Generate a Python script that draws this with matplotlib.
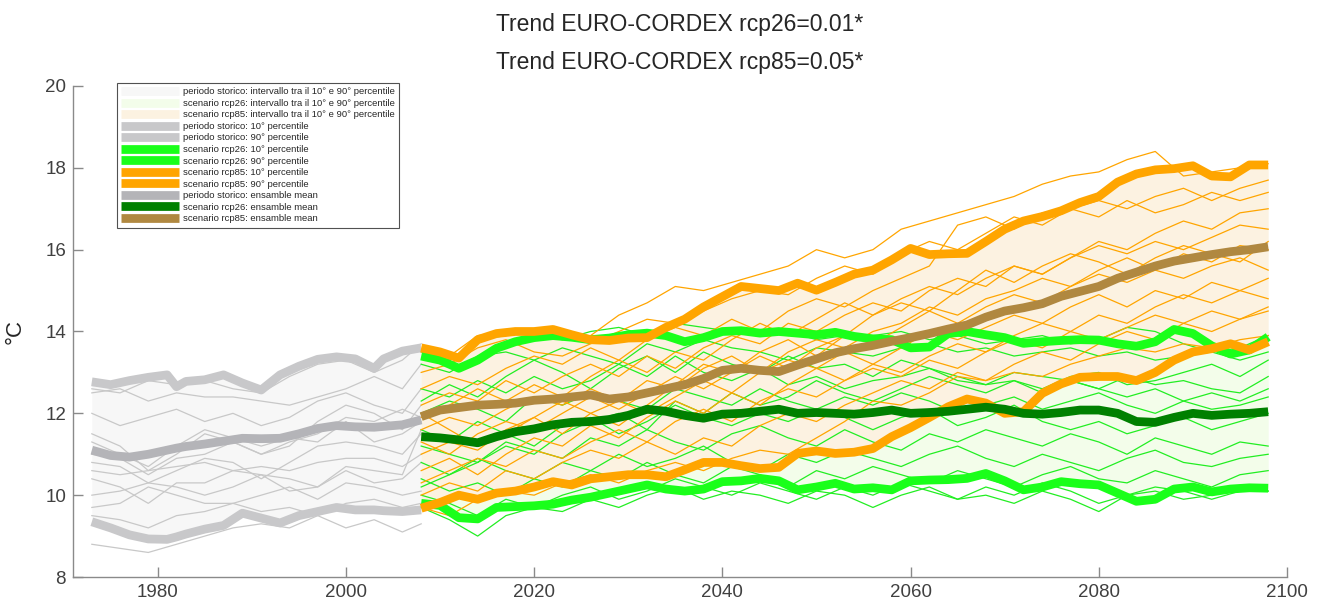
import matplotlib
matplotlib.use("Agg")
import matplotlib.pyplot as plt
from matplotlib.lines import Line2D
import numpy as np

plt.rcParams['font.family'] = ['Liberation Sans', 'DejaVu Sans']

# ---------------- DATA ----------------
title_lines = ["Trend EURO-CORDEX rcp26=0.01*", "Trend EURO-CORDEX rcp85=0.05*"]
y_label = "°C"
x_ticks = [1980, 2000, 2020, 2040, 2060, 2080, 2100]
y_ticks = [8, 10, 12, 14, 16, 18, 20]

legend_labels = [
    "periodo storico: intervallo tra il 10° e 90° percentile",
    "scenario rcp26: intervallo tra il 10° e 90° percentile",
    "scenario rcp85: intervallo tra il 10° e 90° percentile",
    "periodo storico: 10° percentile",
    "periodo storico: 90° percentile",
    "scenario rcp26: 10° percentile",
    "scenario rcp26: 90° percentile",
    "scenario rcp85: 10° percentile",
    "scenario rcp85: 90° percentile",
    "periodo storico: ensamble mean",
    "scenario rcp26: ensamble mean",
    "scenario rcp85: ensamble mean",
]

# historical thick lines
hist_years = [1973, 1975, 1977, 1979, 1981, 1982, 1983, 1985, 1987, 1989,
              1991, 1993, 1995, 1997, 1999, 2001, 2003, 2004, 2006, 2008]
hist_p90 = [12.77, 12.70, 12.80, 12.88, 12.94, 12.65, 12.78, 12.82, 12.94, 12.74,
            12.57, 12.94, 13.15, 13.32, 13.38, 13.33, 13.10, 13.33, 13.52, 13.60]
hist_p10 = [9.35, 9.20, 9.03, 8.93, 8.92, 8.98, 9.05, 9.17, 9.26, 9.56,
            9.44, 9.32, 9.50, 9.60, 9.70, 9.64, 9.64, 9.62, 9.60, 9.64]
hist_mean = [11.10, 10.97, 10.93, 11.00, 11.10, 11.15, 11.19, 11.25, 11.32, 11.39,
             11.38, 11.39, 11.50, 11.63, 11.70, 11.67, 11.66, 11.68, 11.72, 11.84]

# historical single models
hist_thin_years = [1973, 1976, 1979, 1982, 1985, 1988, 1991, 1994, 1997, 2000, 2003, 2006, 2008]
hist_models = [
    [12.6, 12.5, 12.8, 12.7, 12.8, 12.6, 12.5, 12.9, 13.2, 13.3, 13.0, 13.3, 13.7],
    [12.5, 12.6, 12.3, 12.5, 12.4, 12.4, 12.3, 12.2, 12.4, 12.6, 12.9, 12.6, 13.2],
    [12.0, 11.7, 11.9, 12.1, 11.8, 12.0, 11.7, 11.9, 12.3, 12.5, 12.2, 12.0, 12.6],
    [11.5, 11.2, 10.6, 11.0, 11.5, 11.3, 11.0, 11.2, 11.8, 12.2, 12.0, 11.6, 12.2],
    [11.3, 11.0, 10.7, 11.2, 11.6, 11.4, 11.2, 11.4, 11.3, 11.8, 11.3, 11.5, 11.8],
    [11.0, 10.9, 10.5, 10.9, 11.0, 11.3, 11.0, 11.3, 11.5, 11.9, 11.8, 12.1, 11.9],
    [10.8, 10.7, 10.3, 10.6, 10.9, 10.8, 10.4, 10.8, 11.2, 11.3, 11.2, 11.0, 11.5],
    [10.6, 10.5, 10.6, 10.7, 10.8, 10.6, 10.7, 10.6, 10.8, 10.9, 10.9, 10.7, 11.0],
    [10.4, 10.2, 9.8, 10.3, 10.3, 10.6, 10.5, 10.4, 10.2, 10.7, 10.6, 10.5, 11.6],
    [10.0, 10.1, 10.3, 10.2, 10.0, 10.2, 10.5, 10.1, 10.2, 10.6, 10.3, 10.4, 10.8],
    [9.7, 9.8, 10.2, 10.0, 9.8, 9.8, 10.0, 10.2, 9.9, 10.3, 10.2, 10.0, 10.1],
    [9.5, 9.4, 9.2, 9.5, 9.6, 9.8, 9.6, 9.7, 9.5, 9.8, 9.9, 9.7, 9.8],
    [8.8, 8.7, 8.6, 8.8, 9.0, 9.2, 9.3, 9.2, 9.5, 9.2, 9.4, 9.1, 9.3],
]

# scenario thick lines
scen_years = list(range(2008, 2099, 2))
rcp85_p90 = [13.60, 13.50, 13.35, 13.80, 13.95, 14.00, 14.00, 14.05, 13.92, 13.80,
             13.78, 13.84, 13.85, 14.10, 14.30, 14.60, 14.85, 15.10, 15.05, 15.00,
             15.18, 15.01, 15.20, 15.40, 15.50, 15.75, 16.03, 15.88, 15.90, 15.91,
             16.20, 16.50, 16.70, 16.81, 16.95, 17.15, 17.30, 17.65, 17.85, 17.95,
             17.98, 18.05, 17.80, 17.78, 18.07, 18.07]
rcp85_p10 = [9.68, 9.82, 10.00, 9.90, 10.05, 10.10, 10.20, 10.33, 10.25, 10.40,
             10.45, 10.50, 10.50, 10.45, 10.62, 10.80, 10.80, 10.72, 10.65, 10.68,
             11.02, 11.08, 11.02, 11.05, 11.14, 11.43, 11.65, 11.90, 12.16, 12.35,
             12.25, 12.00, 12.04, 12.49, 12.72, 12.88, 12.90, 12.90, 12.80, 13.00,
             13.30, 13.50, 13.58, 13.70, 13.55, 13.75]
rcp85_mean = [11.92, 12.08, 12.14, 12.20, 12.22, 12.25, 12.32, 12.35, 12.40, 12.45,
              12.35, 12.40, 12.50, 12.60, 12.70, 12.85, 13.05, 13.10, 13.05, 13.02,
              13.18, 13.33, 13.48, 13.58, 13.66, 13.76, 13.85, 13.95, 14.06, 14.16,
              14.35, 14.50, 14.58, 14.68, 14.86, 14.98, 15.10, 15.30, 15.45, 15.60,
              15.72, 15.80, 15.88, 15.95, 16.00, 16.07]
rcp26_p90 = [13.40, 13.30, 13.10, 13.30, 13.59, 13.75, 13.85, 13.90, 13.86, 13.80,
             13.84, 13.92, 13.96, 13.90, 13.75, 13.85, 14.00, 14.02, 13.96, 14.00,
             13.96, 13.92, 13.98, 13.88, 13.82, 13.80, 13.60, 13.62, 13.95, 14.00,
             13.92, 13.85, 13.71, 13.75, 13.78, 13.80, 13.79, 13.70, 13.64, 13.75,
             14.05, 13.95, 13.65, 13.45, 13.55, 13.87]
rcp26_p10 = [9.80, 9.75, 9.45, 9.42, 9.70, 9.72, 9.74, 9.78, 9.88, 9.95,
             10.05, 10.15, 10.25, 10.15, 10.10, 10.15, 10.33, 10.35, 10.41, 10.35,
             10.13, 10.20, 10.29, 10.15, 10.18, 10.13, 10.35, 10.37, 10.38, 10.41,
             10.53, 10.35, 10.13, 10.20, 10.33, 10.28, 10.25, 10.05, 9.85, 9.90,
             10.15, 10.20, 10.08, 10.15, 10.18, 10.17]
rcp26_mean = [11.43, 11.40, 11.35, 11.28, 11.43, 11.55, 11.62, 11.72, 11.78, 11.80,
              11.85, 11.95, 12.10, 12.05, 11.95, 11.88, 11.98, 12.00, 12.05, 12.10,
              12.00, 12.02, 12.00, 11.98, 12.02, 12.08, 12.00, 12.02, 12.05, 12.10,
              12.15, 12.10, 12.00, 11.98, 12.02, 12.08, 12.08, 12.00, 11.80, 11.78,
              11.90, 12.00, 11.95, 11.98, 12.00, 12.04]

# scenario single models
scen_thin_years = list(range(2008, 2099, 3))
rcp26_models = [
    [13.5, 13.3, 13.8, 13.9, 14.0, 13.8, 14.0, 14.1, 13.9, 14.2, 14.1, 14.0, 13.9, 14.0, 13.8, 13.9, 13.9, 14.0, 13.8, 13.9, 13.7, 13.8, 13.9, 13.7, 13.8, 14.1, 14.0, 13.7, 13.5, 13.6, 13.9],
    [13.2, 13.0, 13.4, 13.5, 13.3, 13.6, 13.4, 13.2, 13.7, 13.5, 13.8, 13.6, 13.5, 13.3, 13.6, 13.5, 13.4, 13.6, 13.7, 13.5, 13.6, 13.4, 13.5, 13.6, 13.4, 13.5, 13.3, 13.4, 13.5, 13.3, 13.5],
    [12.6, 12.4, 12.8, 12.5, 12.9, 12.6, 12.8, 13.2, 12.9, 13.4, 13.0, 12.8, 13.1, 12.7, 12.9, 12.6, 12.8, 12.9, 13.1, 12.8, 12.7, 13.0, 12.9, 12.8, 12.6, 12.9, 12.7, 12.8, 12.6, 12.5, 12.9],
    [12.0, 12.3, 12.1, 11.8, 12.4, 12.2, 12.5, 12.3, 12.1, 12.6, 12.4, 12.2, 12.6, 12.3, 12.1, 12.4, 12.2, 12.5, 12.3, 12.0, 12.2, 12.4, 12.1, 12.3, 12.5, 12.2, 12.0, 12.3, 12.1, 12.2, 12.4],
    [11.6, 11.3, 11.8, 11.5, 11.2, 11.7, 11.9, 11.5, 11.8, 12.2, 11.9, 11.7, 12.0, 11.8, 12.1, 11.9, 11.6, 11.9, 12.1, 11.7, 11.9, 12.2, 11.8, 11.6, 11.8, 11.5, 11.7, 11.9, 11.6, 11.8, 12.0],
    [11.2, 11.0, 10.8, 11.3, 11.1, 10.9, 11.4, 11.2, 11.6, 11.3, 11.1, 11.5, 11.7, 11.4, 11.2, 11.6, 11.3, 11.1, 11.5, 11.3, 11.6, 11.4, 11.2, 11.5, 11.3, 11.0, 11.4, 11.2, 11.0, 11.3, 11.2],
    [10.8, 10.5, 10.9, 10.6, 10.4, 10.8, 10.6, 11.0, 10.7, 10.9, 11.2, 10.8, 10.6, 11.0, 10.8, 11.1, 10.9, 10.7, 11.0, 11.2, 10.9, 10.7, 11.0, 10.8, 10.6, 10.9, 11.1, 10.8, 10.7, 10.9, 11.0],
    [10.4, 10.1, 10.3, 10.0, 10.4, 10.2, 10.6, 10.4, 10.8, 10.5, 10.3, 10.7, 10.5, 10.2, 10.6, 10.4, 10.7, 10.5, 10.3, 10.6, 10.4, 10.2, 10.5, 10.7, 10.4, 10.3, 10.6, 10.4, 10.2, 10.5, 10.6],
    [10.0, 9.8, 9.5, 9.9, 9.7, 10.0, 10.2, 9.9, 10.1, 10.4, 10.2, 10.0, 10.3, 10.1, 9.9, 10.2, 10.0, 10.3, 10.1, 9.9, 10.2, 10.0, 10.3, 10.1, 9.8, 10.0, 10.2, 10.1, 9.9, 10.1, 10.1],
    [9.7, 9.4, 9.0, 9.5, 9.7, 9.6, 9.9, 9.7, 10.0, 10.2, 9.9, 10.1, 10.0, 9.8, 10.1, 10.0, 9.7, 10.0, 10.2, 9.9, 10.0, 9.8, 10.1, 9.9, 9.6, 10.0, 10.1, 9.9, 10.0, 10.2, 10.1],
    [10.2, 10.5, 10.8, 11.2, 11.0, 11.5, 11.8, 12.0, 11.6, 12.3, 12.0, 12.5, 12.2, 12.4, 12.8, 12.5, 12.3, 12.6, 12.9, 12.7, 12.5, 12.8, 12.6, 12.9, 13.0, 12.7, 12.8, 13.0, 13.2, 12.9, 13.3],
    [12.3, 12.7, 12.4, 12.9, 13.3, 13.0, 12.6, 13.1, 13.4, 13.0, 13.5, 13.2, 13.0, 13.4, 13.1, 13.2, 12.9, 13.3, 13.1, 12.9, 12.7, 12.8, 12.5, 12.8, 12.6, 12.4, 12.6, 12.3, 12.5, 12.3, 12.6],
]
rcp85_models = [
    [13.5, 13.4, 13.9, 14.0, 13.9, 13.8, 13.9, 14.4, 14.7, 15.1, 15.0, 15.2, 15.4, 15.6, 16.0, 15.8, 16.0, 16.5, 16.7, 16.9, 17.1, 17.3, 17.6, 17.8, 17.9, 18.2, 18.4, 17.8, 17.9, 18.0, 18.1],
    [13.0, 13.2, 13.6, 13.8, 13.5, 13.4, 13.7, 14.0, 14.3, 14.2, 14.5, 14.8, 15.0, 14.9, 15.3, 15.6, 15.4, 15.9, 16.2, 16.0, 16.4, 16.8, 16.6, 17.0, 17.2, 17.0, 17.3, 17.5, 17.2, 17.5, 17.7],
    [12.6, 12.9, 12.7, 13.1, 13.4, 13.2, 13.6, 13.3, 13.8, 14.1, 13.9, 14.3, 14.0, 14.5, 14.8, 14.6, 15.0, 15.3, 15.6, 16.6, 16.8, 16.5, 16.9, 17.0, 16.8, 17.2, 16.9, 17.1, 17.4, 17.2, 17.4],
    [12.2, 12.5, 12.3, 12.8, 12.5, 12.9, 13.2, 12.9, 13.4, 13.1, 13.6, 13.9, 13.7, 14.2, 14.0, 14.4, 14.7, 14.5, 15.0, 15.3, 15.1, 15.6, 15.4, 15.8, 16.2, 16.0, 16.4, 16.7, 16.5, 16.9, 17.0],
    [11.9, 12.2, 12.6, 12.3, 12.7, 12.4, 12.9, 13.3, 13.0, 13.5, 13.3, 13.8, 14.2, 13.9, 14.3, 14.7, 14.4, 14.8, 15.1, 14.9, 15.3, 15.6, 15.4, 15.8, 16.1, 15.9, 16.2, 16.0, 16.3, 16.6, 16.5],
    [11.6, 11.9, 11.7, 12.1, 12.4, 12.2, 12.6, 12.3, 12.8, 12.6, 13.1, 13.4, 13.0, 13.5, 13.8, 13.6, 14.0, 14.2, 14.6, 14.4, 14.8, 15.0, 15.3, 15.1, 15.5, 15.8, 15.5, 15.9, 15.7, 16.1, 16.0],
    [11.3, 11.0, 11.5, 11.8, 11.6, 12.0, 12.4, 12.1, 12.5, 12.9, 12.6, 13.0, 13.4, 13.1, 13.6, 13.9, 13.7, 14.1, 14.5, 14.2, 14.6, 14.9, 14.7, 15.1, 15.4, 15.2, 15.5, 15.3, 15.6, 15.8, 15.5],
    [11.0, 11.3, 11.1, 11.6, 11.9, 11.5, 12.0, 12.3, 12.0, 12.4, 12.8, 12.5, 13.0, 13.3, 13.1, 13.5, 13.2, 13.6, 14.0, 13.8, 14.1, 14.4, 14.2, 14.6, 14.9, 14.6, 15.0, 14.8, 15.2, 15.0, 15.3],
    [10.6, 10.9, 10.5, 11.0, 11.4, 11.2, 11.7, 11.4, 11.9, 12.3, 12.0, 12.5, 12.2, 12.7, 13.1, 12.8, 13.2, 13.0, 13.4, 13.7, 13.5, 13.9, 14.2, 14.0, 14.4, 14.2, 14.6, 14.9, 14.7, 15.0, 14.8],
    [10.3, 10.6, 10.9, 10.7, 11.1, 10.9, 11.3, 11.6, 11.3, 11.8, 12.1, 11.8, 12.3, 12.6, 12.4, 12.8, 13.1, 12.9, 13.3, 13.1, 13.5, 13.8, 13.6, 14.0, 13.8, 14.1, 14.4, 14.2, 14.5, 14.3, 14.6],
    [10.0, 10.3, 10.1, 10.6, 10.4, 10.8, 11.1, 10.9, 11.3, 11.0, 11.4, 11.2, 11.7, 12.0, 11.8, 12.2, 12.5, 12.8, 12.6, 13.0, 12.8, 13.2, 13.5, 13.3, 13.7, 14.0, 13.8, 14.2, 14.0, 14.3, 14.5],
    [9.7, 9.5, 9.9, 10.1, 10.0, 10.3, 10.5, 10.3, 10.6, 10.8, 10.6, 10.9, 11.1, 11.0, 11.4, 11.8, 12.3, 12.2, 12.5, 12.9, 12.8, 13.0, 12.9, 13.2, 13.4, 13.6, 13.5, 13.7, 13.6, 13.8, 13.9],
    [12.0, 11.6, 11.2, 11.5, 11.9, 12.3, 12.0, 11.7, 12.2, 12.7, 13.2, 13.0, 13.5, 13.8, 13.4, 13.9, 14.4, 14.7, 14.5, 15.0, 15.5, 15.2, 15.6, 15.9, 15.7, 15.4, 15.8, 16.1, 15.9, 15.7, 16.2],
]

# ---------------- STYLE ----------------
c_hist_fill = '#f7f7f7'
c_26_fill = '#f3fdea'
c_85_fill = '#fcf2e1'
c_hist_pct = '#c8c8ca'
c_hist_thin = '#c8c8c8'
c_hist_mean = '#b4b4b8'
c_26 = '#1aff1a'
c_26_thin = '#22ee22'
c_26_mean = '#008000'
c_85 = '#ffa500'
c_85_mean = '#b08840'

fig = plt.figure(figsize=(13.2, 6.03), dpi=100)
ax = fig.add_axes([0.0553, 0.0431, 0.9197, 0.8143])

ax.fill_between(hist_years, hist_p10, hist_p90, color=c_hist_fill, lw=0, zorder=1)
ax.fill_between(scen_years, rcp26_p10, rcp26_p90, color=c_26_fill, lw=0, zorder=1)
ax.fill_between(scen_years, rcp85_p10, rcp85_p90, color=c_85_fill, lw=0, zorder=1.1)

for m in hist_models:
    ax.plot(hist_thin_years, m, color=c_hist_thin, lw=0.9, zorder=2)
for m in rcp26_models:
    ax.plot(scen_thin_years, m, color=c_26_thin, lw=0.9, zorder=2)
for m in rcp85_models:
    ax.plot(scen_thin_years, m, color=c_85, lw=0.9, zorder=2)

thick = 6.3
ax.plot(hist_years, hist_p10, color=c_hist_pct, lw=thick, zorder=3, solid_capstyle='butt')
ax.plot(hist_years, hist_p90, color=c_hist_pct, lw=thick, zorder=3, solid_capstyle='butt')
ax.plot(scen_years, rcp26_p10, color=c_26, lw=thick, zorder=3, solid_capstyle='butt')
ax.plot(scen_years, rcp26_p90, color=c_26, lw=thick, zorder=3, solid_capstyle='butt')
ax.plot(scen_years, rcp85_p10, color=c_85, lw=thick, zorder=3.1, solid_capstyle='butt')
ax.plot(scen_years, rcp85_p90, color=c_85, lw=thick, zorder=3.1, solid_capstyle='butt')
ax.plot(hist_years, hist_mean, color=c_hist_mean, lw=thick, zorder=4, solid_capstyle='butt')
ax.plot(scen_years, rcp26_mean, color=c_26_mean, lw=thick, zorder=4, solid_capstyle='butt')
ax.plot(scen_years, rcp85_mean, color=c_85_mean, lw=thick, zorder=4, solid_capstyle='butt')

ax.set_xlim(1971, 2100)
ax.set_ylim(8, 20)
ax.set_xticks(x_ticks)
ax.set_yticks(y_ticks)
for s in ['top', 'right']:
    ax.spines[s].set_visible(False)
for s in ['left', 'bottom']:
    ax.spines[s].set_color('#8a8a8a')
    ax.spines[s].set_linewidth(1.0)
ax.tick_params(direction='in', length=7, width=1.0, color='#8a8a8a',
               labelcolor='#404040', labelsize=13.5, pad=5)
ax.set_ylabel(y_label, fontsize=16, color='#262626', labelpad=14)

fig.text(0.515, 0.960, title_lines[0], ha='center', va='center', fontsize=16.5, color='#262626')
fig.text(0.515, 0.897, title_lines[1], ha='center', va='center', fontsize=16.5, color='#262626')

handle_colors = [c_hist_fill, c_26_fill, c_85_fill, c_hist_pct, c_hist_pct, c_26, c_26,
                 c_85, c_85, c_hist_mean, c_26_mean, c_85_mean]
handles = [Line2D([0], [0], color=c, lw=6.3, solid_capstyle='butt') for c in handle_colors]
leg = ax.legend(handles, legend_labels, loc='upper left', bbox_to_anchor=(0.0362, 1.006),
                borderaxespad=0, fontsize=6.8, handlelength=6.1, handletextpad=0.4,
                labelspacing=0.27, frameon=True, fancybox=False, borderpad=0.45)
leg.get_frame().set_edgecolor('#262626')
leg.get_frame().set_linewidth(0.8)
for t in leg.get_texts():
    t.set_color('#262626')

fig.savefig('out.png', dpi=100)
